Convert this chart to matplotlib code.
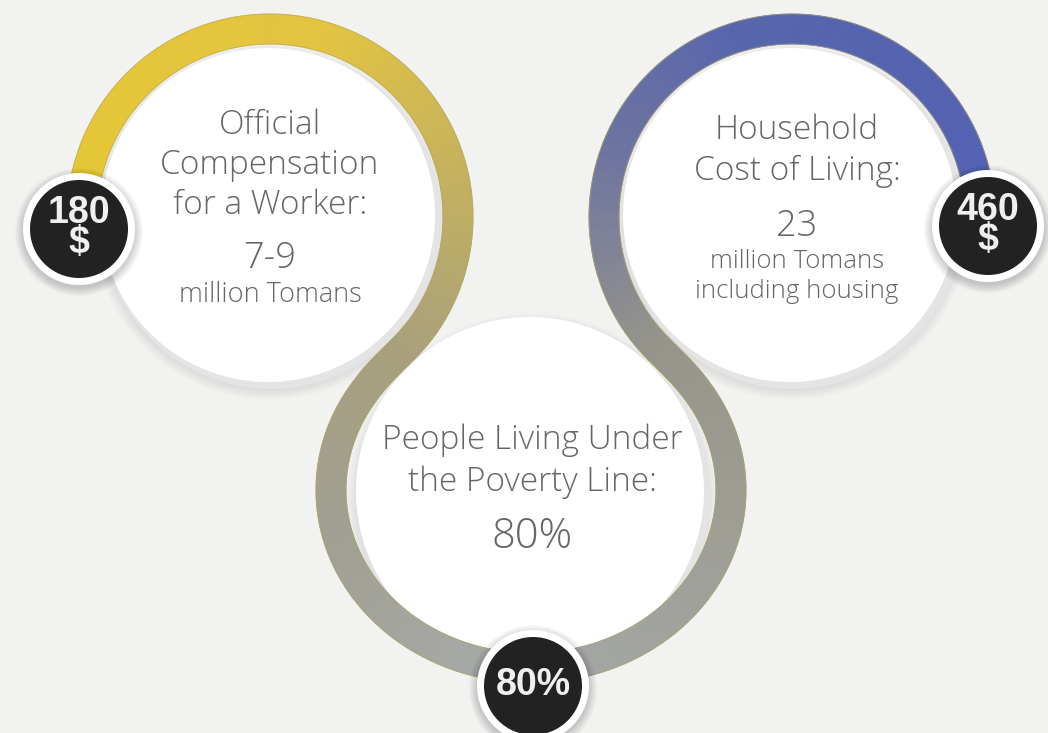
import numpy as np
import matplotlib.pyplot as plt
from matplotlib.collections import PolyCollection
from matplotlib.colors import LinearSegmentedColormap
from matplotlib.patches import Circle

# --- content ---
left_title = ["Official", "Compensation", "for a Worker:"]
left_value = "7-9"
left_unit = ["million Tomans"]
right_title = ["Household", "Cost of Living:"]
right_value = "23"
right_unit = ["million Tomans", "including housing"]
bottom_title = ["People Living Under", "the Poverty Line:"]
bottom_value = "80%"
badges = ["180\n$", "460\n$", "80%"]

# ring colour stops (fraction along the path, colour)
left_stops = [(0.0, "#e6c734"), (0.3, "#e3c441"), (0.5, "#bfae63"),
              (0.63, "#a8a07c"), (0.8, "#a09f92"), (1.0, "#a7aaaa")]
right_stops = [(0.0, "#5261b3"), (0.3, "#5765ad"), (0.45, "#6e74a0"),
               (0.62, "#95948b"), (0.8, "#9e9e95"), (1.0, "#a4a7a7")]

BG = "#f2f2f1"
TXT = "#666666"

fig = plt.figure(figsize=(10.48, 7.33), dpi=100, facecolor=BG)
ax = fig.add_axes([0, 0, 1, 1])
ax.set_xlim(0, 1048)
ax.set_ylim(733, 0)
ax.axis("off")
ax.set_facecolor(BG)


def arc(cx, cy, a, b, t0, t1, n=200):
    t = np.radians(np.linspace(t0, t1, n))
    return np.column_stack([cx + a * np.cos(t), cy - b * np.sin(t)])


def bez(p0, p1, p2, p3, n=60):
    s = np.linspace(0, 1, n)[:, None]
    return ((1 - s) ** 3 * p0 + 3 * (1 - s) ** 2 * s * p1
            + 3 * (1 - s) * s ** 2 * p2 + s ** 3 * p3)


def ring_path(pts, stops, width=30):
    d = np.gradient(pts, axis=0)
    d /= np.linalg.norm(d, axis=1)[:, None]
    nrm = np.column_stack([-d[:, 1], d[:, 0]])
    outer = pts + nrm * width / 2
    inner = pts - nrm * width / 2
    seg = np.linalg.norm(np.diff(pts, axis=0), axis=1)
    frac = np.concatenate([[0], np.cumsum(seg)]) / seg.sum()
    cmap = LinearSegmentedColormap.from_list("g", stops)
    polys = [[outer[i], outer[i + 1], inner[i + 1], inner[i]] for i in range(len(pts) - 1)]
    cols = cmap((frac[:-1] + frac[1:]) / 2)
    ax.add_collection(PolyCollection(polys, facecolors=cols, edgecolors=cols,
                                     linewidths=0.6, zorder=5))
    for e in (outer, inner):
        ax.plot(e[:, 0], e[:, 1], color="#b3a663", lw=0.7, alpha=0.6, zorder=6)


def soft_circle(cx, cy, r, spread, dy=0, alpha=0.02, steps=10, z=1):
    for k in range(steps):
        ax.add_patch(Circle((cx, cy + dy), r + spread * (k + 1) / steps,
                            color="#000000", alpha=alpha, lw=0, zorder=z))


# geometry (pixels)
C1 = (270, 217)
C2 = (792, 217)
C3 = (531, 490)
R = 188
A3, B3 = 200, 178

# white discs with soft shadow
for (cx, cy), r in [(C1, 170), (C2, 170), ((532, 493), 177)]:
    soft_circle(cx, cy, r - 4, 12, dy=5, alpha=0.008, steps=12)
    ax.add_patch(Circle((cx + 1, cy + 2), r, color="#e4e4e4", lw=0, zorder=2))
    ax.add_patch(Circle((cx - 2, cy - 2), r - 3, color="white", lw=0, zorder=3))

# left path: badge -> over the top -> down into bottom ring -> bottom badge
a1 = arc(C1[0], C1[1], R, R, 184, -30)
e1 = arc(C3[0], C3[1], A3, B3, 148, 266)
t0 = np.array([-0.5, 0.866])
t3 = e1[1] - e1[0]
t3 /= np.linalg.norm(t3)
b1 = bez(a1[-1], a1[-1] + 45 * t0, e1[0] - 45 * t3, e1[0])
ring_path(np.vstack([a1, b1[1:-1], e1]), left_stops)

# right path, mirrored
a2 = arc(C2[0], C2[1], R, R, -3, 210)
e2 = arc(C3[0], C3[1], A3, B3, 32, -86)
t0 = np.array([0.5, 0.866])
t3 = e2[1] - e2[0]
t3 /= np.linalg.norm(t3)
b2 = bez(a2[-1], a2[-1] + 45 * t0, e2[0] - 45 * t3, e2[0])
ring_path(np.vstack([a2, b2[1:-1], e2]), right_stops)


def block(x, lines, ys, sizes):
    for s, y, fs in zip(lines, ys, sizes):
        ax.text(x, y, s, ha="center", va="center", color=TXT, fontsize=fs,
                family="Open Sans", weight="light", zorder=10)


block(270, left_title + [left_value] + left_unit,
      [125, 165, 205, 258, 295], [24, 24, 24, 26, 19.5])
block(797, right_title + [right_value] + right_unit,
      [130, 171, 227, 261, 292], [24, 24, 26, 18.5, 18.5])
block(532, bottom_title + [bottom_value],
      [440, 482, 537], [24, 24, 30])

# badges
for (bx, by), lab in zip([(79, 229), (988, 226), (533, 686)], badges):
    soft_circle(bx, by, 55, 9, dy=3, alpha=0.025, steps=8, z=11)
    ax.add_patch(Circle((bx, by), 56, color="white", lw=0, zorder=12))
    ax.add_patch(Circle((bx, by), 49, color="#222222", lw=0, zorder=13))
    ax.text(bx, by - 1, lab, ha="center", va="center", color="#efefef",
            fontsize=27, family="Liberation Sans", weight="bold",
            linespacing=0.82, zorder=14)

fig.savefig("out.png", dpi=100, facecolor=BG)
